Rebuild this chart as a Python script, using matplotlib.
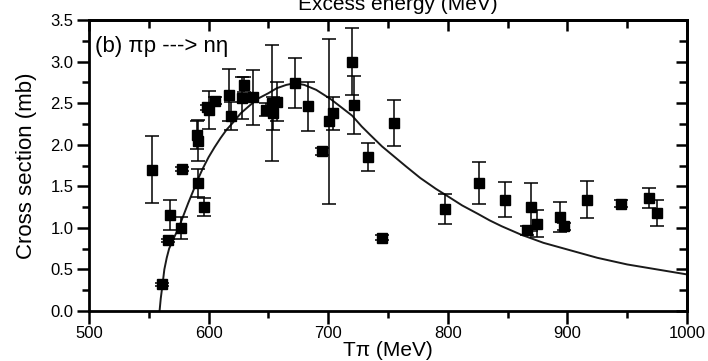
import matplotlib
matplotlib.use("Agg")
import matplotlib.pyplot as plt
from matplotlib.ticker import MultipleLocator

plt.rcParams['font.family'] = ['Liberation Sans', 'DejaVu Sans']

# measured cross sections: pion kinetic energy (MeV), sigma (mb), error (mb)
t_pi = [553, 561, 566, 568, 577, 578, 590, 591, 591, 596, 600, 599, 605,
        617, 619, 628, 630, 637, 648, 653, 654, 657, 672, 683, 695, 701,
        704, 720, 722, 733, 745, 755, 798, 826, 848, 866, 870, 875, 894,
        897, 916, 945, 968, 975]
sigma = [1.70, 0.32, 0.85, 1.16, 1.00, 1.71, 2.12, 2.05, 1.54, 1.25, 2.42, 2.45, 2.53,
         2.60, 2.35, 2.56, 2.72, 2.57, 2.42, 2.50, 2.38, 2.52, 2.74, 2.46, 1.92, 2.28,
         2.38, 3.00, 2.48, 1.85, 0.88, 2.26, 1.23, 1.54, 1.34, 0.97, 1.25, 1.05, 1.13,
         1.02, 1.34, 1.29, 1.36, 1.18]
sigma_err = [0.40, 0.02, 0.02, 0.18, 0.13, 0.02, 0.17, 0.25, 0.17, 0.11, 0.23, 0.03, 0.04,
             0.31, 0.17, 0.25, 0.09, 0.33, 0.08, 0.70, 0.20, 0.23, 0.30, 0.29, 0.04, 0.99,
             0.20, 0.40, 0.35, 0.17, 0.03, 0.28, 0.18, 0.25, 0.21, 0.05, 0.29, 0.16, 0.18,
             0.04, 0.22, 0.04, 0.12, 0.16]

# model curve
model_t = [559, 560, 561.5, 563, 565, 567, 571, 575, 579, 583, 587, 590, 595, 600,
           605, 610, 615, 620, 627, 635, 642, 650, 657, 665, 672, 680, 690,
           702, 711, 720, 728, 735, 745, 755, 765, 777, 790, 800, 812, 825,
           835, 845, 861, 880, 900, 925, 950, 975, 1000]
model_sigma = [0.0, 0.15, 0.32, 0.5, 0.64, 0.75, 0.88, 1.0, 1.15, 1.3, 1.44, 1.55, 1.71, 1.85,
               1.97, 2.08, 2.18, 2.26, 2.38, 2.48, 2.56, 2.62, 2.68, 2.72, 2.74, 2.72, 2.66,
               2.55, 2.45, 2.35, 2.22, 2.12, 1.98, 1.86, 1.74, 1.60, 1.47, 1.38, 1.27, 1.17,
               1.09, 1.02, 0.92, 0.82, 0.74, 0.64, 0.56, 0.50, 0.44]

fig = plt.figure(figsize=(7.08, 3.61), dpi=100)
ax = fig.add_axes([0.1257, 0.1385, 0.8446, 0.806])

ax.plot(model_t, model_sigma, color='#1a1a1a', lw=1.4, zorder=2)
ax.errorbar(t_pi, sigma, yerr=sigma_err, fmt='s', color='black', ms=6.5,
            elinewidth=1.1, capsize=4.7, capthick=1.1, zorder=3)

ax.set_xlim(500, 1000)
ax.set_ylim(0, 3.5)
ax.xaxis.set_major_locator(MultipleLocator(100))
ax.xaxis.set_minor_locator(MultipleLocator(50))
ax.yaxis.set_major_locator(MultipleLocator(0.5))
ax.yaxis.set_minor_locator(MultipleLocator(0.25))
ax.yaxis.set_major_formatter(plt.FormatStrFormatter('%.1f'))

for s in ax.spines.values():
    s.set_linewidth(2)
ax.tick_params(which='both', direction='out', width=1.8, labelsize=12, pad=2, color='black')
ax.tick_params(which='major', length=9)
ax.tick_params(which='minor', length=5)

# mirrored ticks on top and right, pointing inward
top = ax.secondary_xaxis('top')
top.xaxis.set_major_locator(MultipleLocator(100))
top.xaxis.set_minor_locator(MultipleLocator(50))
top.tick_params(which='both', direction='in', width=1.8, labeltop=False)
top.tick_params(which='major', length=8)
top.tick_params(which='minor', length=6)
right = ax.secondary_yaxis('right')
right.yaxis.set_major_locator(MultipleLocator(0.5))
right.yaxis.set_minor_locator(MultipleLocator(0.25))
right.tick_params(which='both', direction='in', width=1.8, labelright=False)
right.tick_params(which='major', length=8)
right.tick_params(which='minor', length=6)
for sec in (top, right):
    for s in sec.spines.values():
        s.set_linewidth(2)

ax.set_xlabel('T\u03c0 (MeV)', fontsize=15, labelpad=0)
ax.set_ylabel('Cross section (mb)', fontsize=16, labelpad=10)
ax.text(0.01, 0.891, '(b) \u03c0p ---> n\u03b7', transform=ax.transAxes,
        fontsize=16, va='baseline', ha='left')
fig.text(0.562, 1 - 10 / 361, 'Excess energy (MeV)', fontsize=15,
         ha='center', va='baseline')

fig.savefig('out.png', dpi=100)
